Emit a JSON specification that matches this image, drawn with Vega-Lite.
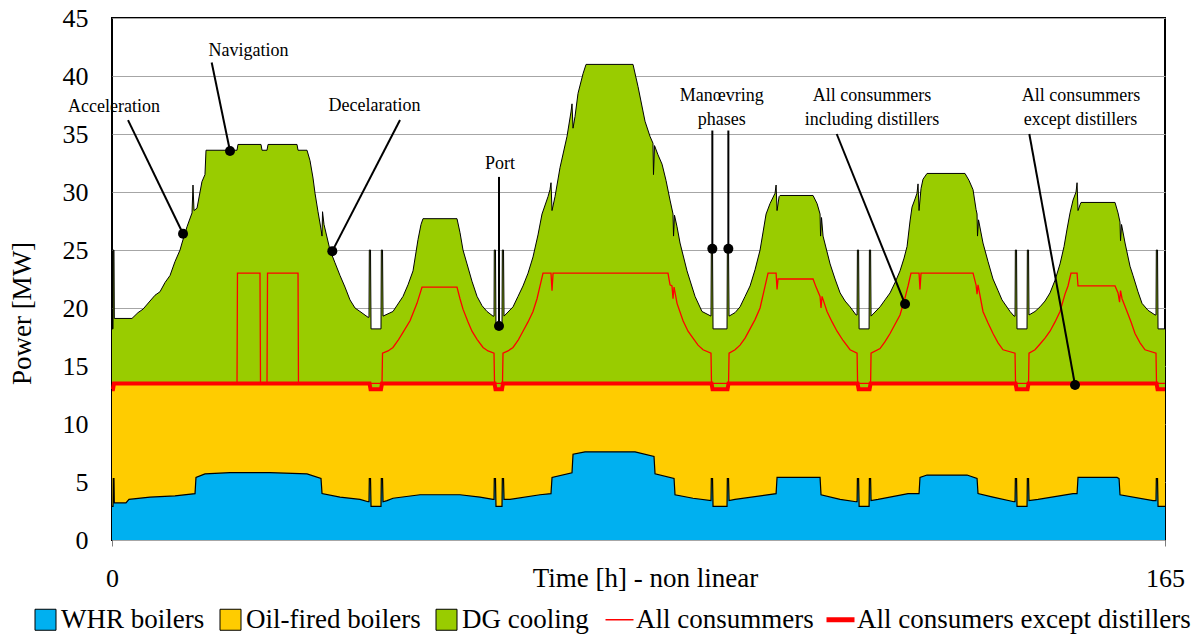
{
  "$schema": "https://vega.github.io/schema/vega-lite/v6.json",
  "width": 1053,
  "height": 522,
  "autosize": {"type": "none"},
  "padding": {"left": 112, "top": 18, "right": 34, "bottom": 100},
  "background": "white",
  "config": {
    "font": "Liberation Serif",
    "view": {"stroke": "black", "strokeWidth": 2},
    "axis": {"labelFont": "Liberation Serif", "titleFont": "Liberation Serif", "labelColor": "black", "titleColor": "black", "titleFontWeight": "normal"},
    "legend": {"labelFont": "Liberation Serif", "labelColor": "black"},
    "text": {"font": "Liberation Serif"}
  },
  "datasets": {
    "dg": [
      {"t":0,"p":18.2},{"t":0.16,"p":18.2},{"t":0.2,"p":25},{"t":0.31,"p":25},{"t":0.36,"p":19.1},{"t":3.13,"p":19.1},{"t":4.07,"p":19.6},{"t":4.86,"p":19.9},{"t":5.95,"p":20.6},{"t":6.74,"p":21.1},{"t":7.52,"p":21.4},{"t":8.31,"p":22.2},{"t":9.09,"p":22.8},{"t":9.87,"p":24.0},{"t":10.66,"p":25.0},{"t":10.97,"p":25.6},{"t":11.75,"p":27.0},{"t":12.54,"p":28.2},{"t":12.69,"p":30.6},{"t":12.85,"p":28.4},{"t":13.32,"p":28.6},{"t":14.1,"p":30.9},{"t":14.57,"p":31.5},{"t":14.73,"p":33.6},{"t":19.59,"p":33.6},{"t":19.74,"p":34.1},{"t":23.35,"p":34.1},{"t":23.51,"p":33.6},{"t":24.29,"p":33.6},{"t":24.45,"p":34.1},{"t":28.99,"p":34.1},{"t":29.15,"p":33.6},{"t":30.56,"p":33.6},{"t":31.03,"p":32.7},{"t":31.5,"p":31.2},{"t":31.81,"p":29.9},{"t":32.28,"p":28.3},{"t":32.75,"p":26.8},{"t":32.91,"p":26.2},{"t":32.99,"p":28.3},{"t":33.22,"p":27.2},{"t":34.16,"p":25.0},{"t":34.94,"p":23.9},{"t":35.73,"p":22.8},{"t":36.51,"p":21.8},{"t":37.29,"p":20.7},{"t":38.08,"p":20.0},{"t":38.86,"p":19.7},{"t":40.12,"p":19.2},{"t":40.27,"p":19.2},{"t":40.32,"p":25},{"t":40.51,"p":25},{"t":40.59,"p":18.2},{"t":42.15,"p":18.2},{"t":42.2,"p":25},{"t":42.39,"p":25},{"t":42.47,"p":19.3},{"t":44.03,"p":19.7},{"t":45.6,"p":21.0},{"t":46.38,"p":22.0},{"t":47.17,"p":23.2},{"t":47.95,"p":25.9},{"t":48.42,"p":27.2},{"t":48.73,"p":27.7},{"t":54.06,"p":27.7},{"t":54.53,"p":26.5},{"t":55.0,"p":25.0},{"t":55.63,"p":23.8},{"t":56.41,"p":22.3},{"t":57.2,"p":21.0},{"t":57.98,"p":20.2},{"t":58.76,"p":19.7},{"t":59.7,"p":19.3},{"t":59.86,"p":19.3},{"t":59.9,"p":25},{"t":60.09,"p":25},{"t":60.17,"p":18.2},{"t":61.11,"p":18.2},{"t":61.16,"p":25},{"t":61.35,"p":25},{"t":61.43,"p":19.3},{"t":62.84,"p":20.1},{"t":63.62,"p":21.0},{"t":64.4,"p":21.9},{"t":65.19,"p":23.0},{"t":65.97,"p":24.4},{"t":66.75,"p":26.3},{"t":67.38,"p":28.1},{"t":68.32,"p":29.6},{"t":68.63,"p":30.2},{"t":68.79,"p":30.8},{"t":68.95,"p":28.4},{"t":69.42,"p":29.6},{"t":70.2,"p":32.1},{"t":71.3,"p":34.8},{"t":71.92,"p":36.9},{"t":72.08,"p":37.6},{"t":72.24,"p":35.5},{"t":72.55,"p":36.5},{"t":73.02,"p":38.5},{"t":73.81,"p":40.2},{"t":74.28,"p":41.0},{"t":81.64,"p":41.0},{"t":82.42,"p":39.1},{"t":83.52,"p":36.1},{"t":84.3,"p":34.8},{"t":84.77,"p":34.2},{"t":84.85,"p":31.5},{"t":85.01,"p":34.0},{"t":85.56,"p":33.2},{"t":86.19,"p":32.4},{"t":86.81,"p":31.0},{"t":87.44,"p":29.3},{"t":87.91,"p":28.1},{"t":87.99,"p":26.2},{"t":88.14,"p":28.0},{"t":88.54,"p":27.0},{"t":89.01,"p":25.6},{"t":90.1,"p":23.2},{"t":91.36,"p":21.0},{"t":92.45,"p":19.7},{"t":93.86,"p":19.3},{"t":93.91,"p":25},{"t":94.1,"p":25},{"t":94.18,"p":18.2},{"t":96.37,"p":18.2},{"t":96.42,"p":25},{"t":96.61,"p":25},{"t":96.69,"p":19.3},{"t":97.63,"p":19.6},{"t":98.41,"p":20.1},{"t":99.2,"p":21.0},{"t":99.98,"p":21.9},{"t":100.76,"p":23.3},{"t":101.55,"p":25.0},{"t":102.49,"p":28.1},{"t":103.11,"p":29.0},{"t":103.9,"p":29.9},{"t":104.06,"p":30.6},{"t":104.21,"p":28.4},{"t":104.53,"p":29.6},{"t":104.68,"p":29.7},{"t":109.85,"p":29.7},{"t":110.48,"p":29.0},{"t":110.95,"p":28.1},{"t":111.03,"p":26.2},{"t":111.18,"p":27.8},{"t":111.42,"p":26.2},{"t":112.52,"p":23.8},{"t":113.3,"p":22.5},{"t":114.09,"p":21.3},{"t":114.87,"p":20.6},{"t":115.65,"p":20.1},{"t":116.59,"p":19.4},{"t":116.75,"p":19.4},{"t":116.8,"p":25},{"t":116.99,"p":25},{"t":117.07,"p":18.2},{"t":118.63,"p":18.2},{"t":118.68,"p":25},{"t":118.87,"p":25},{"t":118.94,"p":19.3},{"t":120.35,"p":20.1},{"t":121.13,"p":20.7},{"t":121.92,"p":21.3},{"t":122.7,"p":22.2},{"t":123.48,"p":23.2},{"t":124.11,"p":24.3},{"t":124.58,"p":25.3},{"t":125.05,"p":27.5},{"t":125.36,"p":28.7},{"t":125.83,"p":29.4},{"t":126.14,"p":29.9},{"t":126.3,"p":30.7},{"t":126.46,"p":28.4},{"t":126.77,"p":30.3},{"t":127.08,"p":31.1},{"t":127.71,"p":31.6},{"t":133.66,"p":31.6},{"t":134.29,"p":31.0},{"t":134.92,"p":30.2},{"t":135.39,"p":28.5},{"t":135.55,"p":28.1},{"t":135.62,"p":26.2},{"t":135.78,"p":27.6},{"t":136.48,"p":25.6},{"t":137.27,"p":24.0},{"t":138.05,"p":22.5},{"t":138.84,"p":21.5},{"t":139.46,"p":20.7},{"t":140.72,"p":19.7},{"t":141.34,"p":19.3},{"t":141.5,"p":19.3},{"t":141.55,"p":25},{"t":141.74,"p":25},{"t":141.81,"p":18.2},{"t":143.38,"p":18.2},{"t":143.43,"p":25},{"t":143.62,"p":25},{"t":143.69,"p":19.4},{"t":144.63,"p":19.7},{"t":145.42,"p":20.1},{"t":146.2,"p":20.6},{"t":146.98,"p":21.3},{"t":147.77,"p":22.4},{"t":148.55,"p":23.8},{"t":149.18,"p":25.3},{"t":149.65,"p":26.8},{"t":150.12,"p":28.2},{"t":150.59,"p":29.3},{"t":151.06,"p":30.0},{"t":151.22,"p":30.8},{"t":151.37,"p":28.4},{"t":151.69,"p":28.9},{"t":151.84,"p":29.1},{"t":157.17,"p":29.1},{"t":157.64,"p":28.2},{"t":157.95,"p":27.4},{"t":158.03,"p":25.8},{"t":158.19,"p":27.2},{"t":158.74,"p":25.6},{"t":159.52,"p":23.6},{"t":159.99,"p":22.8},{"t":160.77,"p":21.4},{"t":161.4,"p":20.4},{"t":162.34,"p":19.8},{"t":163.44,"p":19.4},{"t":163.59,"p":19.4},{"t":163.64,"p":25},{"t":163.83,"p":25},{"t":163.91,"p":18.2},{"t":165,"p":18.2}
    ],
    "oil": [
      {"t":0,"p":13.0},{"t":0.16,"p":13.0},{"t":0.31,"p":13.5},{"t":40.35,"p":13.5},{"t":40.51,"p":13.0},{"t":42.15,"p":13.0},{"t":42.31,"p":13.5},{"t":59.94,"p":13.5},{"t":60.09,"p":13.0},{"t":61.11,"p":13.0},{"t":61.27,"p":13.5},{"t":93.94,"p":13.5},{"t":94.1,"p":13.0},{"t":96.45,"p":13.0},{"t":96.61,"p":13.5},{"t":116.83,"p":13.5},{"t":116.99,"p":13.0},{"t":118.71,"p":13.0},{"t":118.87,"p":13.5},{"t":141.58,"p":13.5},{"t":141.74,"p":13.0},{"t":143.46,"p":13.0},{"t":143.62,"p":13.5},{"t":163.67,"p":13.5},{"t":163.83,"p":13.0},{"t":165,"p":13.0}
    ],
    "whr": [
      {"t":0,"p":2.9},{"t":0.16,"p":2.9},{"t":0.2,"p":5.3},{"t":0.31,"p":5.3},{"t":0.36,"p":3.2},{"t":2.19,"p":3.2},{"t":2.66,"p":3.5},{"t":5.95,"p":3.7},{"t":9.87,"p":3.8},{"t":13.01,"p":4.0},{"t":13.16,"p":5.4},{"t":14.57,"p":5.7},{"t":18.49,"p":5.8},{"t":24.76,"p":5.8},{"t":30.56,"p":5.7},{"t":32.75,"p":5.3},{"t":32.91,"p":4.0},{"t":35.73,"p":3.7},{"t":38.86,"p":3.5},{"t":40.12,"p":3.3},{"t":40.27,"p":3.3},{"t":40.32,"p":5.3},{"t":40.51,"p":5.3},{"t":40.59,"p":2.9},{"t":42.15,"p":2.9},{"t":42.2,"p":5.3},{"t":42.39,"p":5.3},{"t":42.47,"p":3.3},{"t":43.1,"p":3.4},{"t":44.03,"p":3.6},{"t":48.26,"p":3.9},{"t":54.53,"p":3.9},{"t":57.67,"p":3.7},{"t":59.7,"p":3.5},{"t":59.86,"p":3.5},{"t":59.9,"p":5.3},{"t":60.09,"p":5.3},{"t":60.17,"p":2.9},{"t":61.11,"p":2.9},{"t":61.16,"p":5.3},{"t":61.35,"p":5.3},{"t":61.43,"p":3.5},{"t":62.37,"p":3.5},{"t":67.07,"p":3.9},{"t":68.79,"p":4.0},{"t":68.95,"p":5.4},{"t":72.08,"p":5.8},{"t":72.24,"p":7.4},{"t":74.12,"p":7.6},{"t":81.96,"p":7.6},{"t":84.93,"p":7.2},{"t":85.09,"p":5.7},{"t":88.07,"p":5.3},{"t":88.22,"p":3.9},{"t":91.04,"p":3.6},{"t":93.86,"p":3.4},{"t":93.91,"p":5.3},{"t":94.1,"p":5.3},{"t":94.18,"p":2.9},{"t":96.37,"p":2.9},{"t":96.42,"p":5.3},{"t":96.61,"p":5.3},{"t":96.69,"p":3.4},{"t":97.63,"p":3.5},{"t":104.06,"p":4.0},{"t":104.21,"p":5.4},{"t":110.95,"p":5.4},{"t":111.1,"p":3.9},{"t":114.09,"p":3.5},{"t":116.59,"p":3.3},{"t":116.75,"p":3.3},{"t":116.8,"p":5.3},{"t":116.99,"p":5.3},{"t":117.07,"p":2.9},{"t":118.63,"p":2.9},{"t":118.68,"p":5.3},{"t":118.87,"p":5.3},{"t":118.94,"p":3.4},{"t":120.04,"p":3.5},{"t":124.74,"p":4.0},{"t":126.46,"p":4.0},{"t":126.61,"p":5.4},{"t":127.71,"p":5.6},{"t":133.98,"p":5.6},{"t":135.55,"p":5.3},{"t":135.7,"p":4.0},{"t":138.05,"p":3.7},{"t":141.34,"p":3.3},{"t":141.5,"p":3.3},{"t":141.55,"p":5.3},{"t":141.74,"p":5.3},{"t":141.81,"p":2.9},{"t":143.38,"p":2.9},{"t":143.43,"p":5.3},{"t":143.62,"p":5.3},{"t":143.69,"p":3.4},{"t":145.11,"p":3.5},{"t":150.59,"p":4.0},{"t":151.22,"p":4.0},{"t":151.37,"p":5.4},{"t":157.48,"p":5.4},{"t":157.8,"p":5.3},{"t":157.95,"p":3.9},{"t":163.12,"p":3.4},{"t":163.59,"p":3.4},{"t":163.64,"p":5.3},{"t":163.83,"p":5.3},{"t":163.91,"p":2.9},{"t":165,"p":2.9}
    ],
    "all": [
      {"t":0,"p":13.5},{"t":19.59,"p":13.5},{"t":19.66,"p":23.0},{"t":23.19,"p":23.0},{"t":23.27,"p":13.5},{"t":24.29,"p":13.5},{"t":24.37,"p":23.0},{"t":29.15,"p":23.0},{"t":29.22,"p":13.5},{"t":42.31,"p":13.5},{"t":42.39,"p":16.1},{"t":43.25,"p":16.3},{"t":44.03,"p":16.6},{"t":44.82,"p":17.2},{"t":45.6,"p":17.9},{"t":46.7,"p":18.9},{"t":47.79,"p":20.4},{"t":48.58,"p":21.8},{"t":54.06,"p":21.8},{"t":54.53,"p":20.8},{"t":55.0,"p":19.9},{"t":55.79,"p":18.8},{"t":56.41,"p":18.0},{"t":57.2,"p":17.3},{"t":58.14,"p":16.6},{"t":58.92,"p":16.3},{"t":59.86,"p":16.1},{"t":59.94,"p":13.5},{"t":61.19,"p":13.5},{"t":61.27,"p":16.1},{"t":62.05,"p":16.3},{"t":62.84,"p":16.6},{"t":63.62,"p":17.2},{"t":64.4,"p":18.0},{"t":65.19,"p":18.8},{"t":65.97,"p":19.7},{"t":66.6,"p":20.8},{"t":67.07,"p":21.9},{"t":67.54,"p":23.0},{"t":68.79,"p":23.0},{"t":68.95,"p":21.5},{"t":69.11,"p":23.0},{"t":87.12,"p":23.0},{"t":87.44,"p":22.0},{"t":87.75,"p":21.9},{"t":87.91,"p":20.8},{"t":88.07,"p":21.8},{"t":88.54,"p":20.4},{"t":89.48,"p":18.9},{"t":90.26,"p":18.0},{"t":91.04,"p":17.4},{"t":91.83,"p":16.8},{"t":92.61,"p":16.4},{"t":93.86,"p":16.1},{"t":93.94,"p":13.5},{"t":96.61,"p":13.5},{"t":96.69,"p":16.1},{"t":97.63,"p":16.4},{"t":98.41,"p":16.8},{"t":99.2,"p":17.4},{"t":99.98,"p":18.2},{"t":100.76,"p":19.0},{"t":101.55,"p":20.0},{"t":102.17,"p":21.5},{"t":102.8,"p":23.0},{"t":104.06,"p":23.0},{"t":104.21,"p":21.6},{"t":104.37,"p":22.5},{"t":109.85,"p":22.5},{"t":110.32,"p":21.8},{"t":110.95,"p":21.0},{"t":111.1,"p":20.0},{"t":111.26,"p":21.0},{"t":112.04,"p":19.7},{"t":112.83,"p":18.8},{"t":113.61,"p":18.0},{"t":114.55,"p":17.2},{"t":115.65,"p":16.4},{"t":116.75,"p":16.1},{"t":116.83,"p":13.5},{"t":118.87,"p":13.5},{"t":118.94,"p":16.1},{"t":120.35,"p":16.5},{"t":121.13,"p":17.1},{"t":121.92,"p":17.8},{"t":122.7,"p":18.6},{"t":123.48,"p":19.4},{"t":124.27,"p":20.9},{"t":124.74,"p":21.9},{"t":125.2,"p":23.0},{"t":126.46,"p":23.0},{"t":126.61,"p":21.6},{"t":126.77,"p":23.0},{"t":134.92,"p":23.0},{"t":135.39,"p":22.0},{"t":135.55,"p":21.2},{"t":135.7,"p":22.0},{"t":136.48,"p":19.7},{"t":137.27,"p":18.7},{"t":138.05,"p":17.8},{"t":138.84,"p":17.0},{"t":139.62,"p":16.4},{"t":141.5,"p":16.1},{"t":141.58,"p":13.5},{"t":143.62,"p":13.5},{"t":143.69,"p":16.1},{"t":144.63,"p":16.4},{"t":145.42,"p":16.9},{"t":146.2,"p":17.4},{"t":146.98,"p":18.0},{"t":147.77,"p":18.8},{"t":148.55,"p":19.7},{"t":149.33,"p":21.2},{"t":149.8,"p":21.9},{"t":150.27,"p":23.0},{"t":151.22,"p":23.0},{"t":151.37,"p":21.9},{"t":157.17,"p":21.9},{"t":157.64,"p":21.3},{"t":157.88,"p":20.5},{"t":158.03,"p":21.5},{"t":158.27,"p":20.8},{"t":159.05,"p":19.7},{"t":159.68,"p":18.8},{"t":160.3,"p":17.8},{"t":161.09,"p":17.0},{"t":161.87,"p":16.4},{"t":163.59,"p":16.1},{"t":163.67,"p":13.5},{"t":165,"p":13.5}
    ],
    "leaders": [
      {"t":2.51,"p":36.2,"t2":11.13,"p2":26.4},
      {"t":15.62,"p":41.16,"t2":18.49,"p2":33.53},
      {"t":45.13,"p":36.2,"t2":34.52,"p2":24.9},
      {"t":60.64,"p":31.3,"t2":60.64,"p2":18.45},
      {"t":94.07,"p":35.3,"t2":94.07,"p2":25.1},
      {"t":96.58,"p":35.3,"t2":96.58,"p2":25.1},
      {"t":113.56,"p":35.0,"t2":124.27,"p2":20.34},
      {"t":143.74,"p":35.0,"t2":150.9,"p2":13.36}
    ],
    "dots": [
      {"t":11.13,"p":26.4},{"t":18.49,"p":33.53},{"t":34.52,"p":24.9},{"t":60.64,"p":18.45},{"t":94.07,"p":25.1},{"t":96.58,"p":25.1},{"t":124.27,"p":20.34},{"t":150.9,"p":13.36}
    ],
    "notes": [
      {"t":0.31,"p":37.3,"label":"Acceleration"},
      {"t":21.39,"p":42.16,"label":"Navigation"},
      {"t":41.13,"p":37.41,"label":"Decelaration"},
      {"t":60.8,"p":32.41,"label":"Port"},
      {"t":95.54,"p":38.28,"label":"Manœvring"},
      {"t":95.54,"p":36.21,"label":"phases"},
      {"t":119.09,"p":38.28,"label":"All consummers"},
      {"t":119.09,"p":36.21,"label":"including distillers"},
      {"t":151.84,"p":38.28,"label":"All consummers"},
      {"t":151.76,"p":36.21,"label":"except distillers"}
    ]
  },
  "encoding": {
    "x": {"field": "t", "type": "quantitative", "scale": {"domain": [0, 165], "nice": false},
      "axis": {"values": [0, 165], "tickSize": 6, "tickColor": "#808080", "domain": false, "grid": false, "labelFont": "Liberation Serif", "labelFontSize": 26, "labelFlush": false, "labelBaseline": "alphabetic", "labelPadding": 40, "title": "Time [h] - non linear", "titleFont": "Liberation Serif", "titleFontSize": 27, "titleX": 533, "titleY": 46, "titleAlign": "center", "titleBaseline": "alphabetic"}},
    "y": {"field": "p", "type": "quantitative", "scale": {"domain": [0, 45], "nice": false},
      "axis": {"values": [0, 5, 10, 15, 20, 25, 30, 35, 40, 45], "ticks": false, "domain": false, "grid": true, "gridColor": "#a6a6a6", "gridWidth": 1, "labelFont": "Liberation Serif", "labelFontSize": 26, "labelPadding": 24, "title": "Power [MW]", "titleFont": "Liberation Serif", "titleFontSize": 27, "titleX": -90, "titleY": 295, "titleAngle": 270, "titleAlign": "center", "titleBaseline": "middle"}}
  },
  "layer": [
    {"data": {"name": "dg"}, "mark": {"type": "area"},
      "encoding": {"fill": {"datum": "DG cooling", "type": "nominal",
        "scale": {"domain": ["WHR boilers", "Oil-fired boilers", "DG cooling"], "range": ["#00b0f0", "#ffcc00", "#99cc00"]},
        "legend": {"orient": "none", "legendX": -80, "legendY": 588, "direction": "horizontal", "title": null, "symbolType": "square", "symbolSize": 441, "symbolStrokeColor": "black", "symbolStrokeWidth": 1, "symbolFillOpacity": 1, "labelFont": "Liberation Serif", "labelFontSize": 27, "labelColor": "black", "labelOffset": 2, "columnPadding": 12, "labelLimit": 600, "padding": 0}}}},
    {"data": {"name": "oil"}, "mark": {"type": "area"},
      "encoding": {"fill": {"datum": "Oil-fired boilers", "type": "nominal"}}},
    {"data": {"name": "whr"}, "mark": {"type": "area"},
      "encoding": {"fill": {"datum": "WHR boilers", "type": "nominal"}}},
    {"data": {"name": "dg"}, "mark": {"type": "line", "color": "black", "strokeWidth": 1}, "encoding": {}},
    {"data": {"name": "whr"}, "mark": {"type": "line", "color": "black", "strokeWidth": 1.2}, "encoding": {}},
    {"data": {"name": "all"}, "mark": {"type": "line", "strokeWidth": 1.3},
      "encoding": {"stroke": {"datum": "All consummers", "type": "nominal",
        "scale": {"domain": ["All consummers", "All consumers except distillers"], "range": ["#ff0000", "#ff0000"]},
        "legend": {"orient": "none", "legendX": 494, "legendY": 588, "direction": "horizontal", "title": null, "symbolType": "stroke", "symbolSize": 784, "labelFont": "Liberation Serif", "labelFontSize": 27, "labelColor": "black", "labelOffset": 3, "columnPadding": 2, "labelLimit": 600, "padding": 0,
          "encode": {"symbols": {"update": {"strokeWidth": {"signal": "datum.value === 'All consummers' ? 1.5 : 5"}}}}}}}},
    {"data": {"name": "oil"}, "mark": {"type": "line", "strokeWidth": 4},
      "encoding": {"stroke": {"datum": "All consumers except distillers", "type": "nominal"}}},
    {"data": {"values": [{}]}, "mark": {"type": "rule", "color": "black", "strokeWidth": 3},
      "encoding": {"x": {"datum": 0, "type": "quantitative"}, "y": null}},
    {"data": {"values": [{}]}, "mark": {"type": "rule", "color": "black", "strokeWidth": 3},
      "encoding": {"y": {"datum": 0, "type": "quantitative"}, "x": null}},
    {"data": {"values": [{}]}, "mark": {"type": "rule", "color": "black", "strokeWidth": 2},
      "encoding": {"x": {"datum": 165, "type": "quantitative"}, "y": null}},
    {"data": {"values": [{}]}, "mark": {"type": "rule", "color": "black", "strokeWidth": 2.5},
      "encoding": {"y": {"datum": 45, "type": "quantitative"}, "x": null}},
    {"data": {"name": "leaders"}, "mark": {"type": "rule", "color": "black", "strokeWidth": 2},
      "encoding": {"x2": {"field": "t2"}, "y2": {"field": "p2"}}},
    {"data": {"name": "dots"}, "mark": {"type": "point", "filled": true, "color": "black", "size": 100, "opacity": 1}, "encoding": {}},
    {"data": {"name": "notes"}, "mark": {"type": "text", "font": "Liberation Serif", "fontSize": 18, "color": "black", "align": "center", "baseline": "middle"},
      "encoding": {"text": {"field": "label", "type": "nominal"}}}
  ]
}
